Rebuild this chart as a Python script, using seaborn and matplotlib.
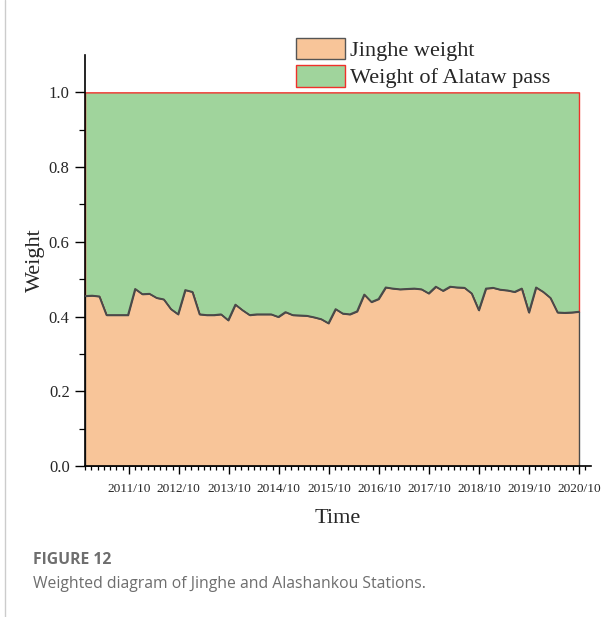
import numpy as np
import pandas as pd
import matplotlib
matplotlib.use("Agg")
import matplotlib.pyplot as plt
from matplotlib.patches import Patch
from matplotlib.lines import Line2D
import seaborn as sns

# Jinghe station weight over time (Alataw pass weight is the complement, 1 - w)
jinghe_weight = [
    0.455, 0.456, 0.454, 0.404, 0.404, 0.404, 0.404, 0.474, 0.460, 0.461,
    0.450, 0.446, 0.420, 0.406, 0.471, 0.466, 0.406, 0.404, 0.404, 0.406,
    0.390, 0.432, 0.417, 0.404, 0.406, 0.406, 0.406, 0.399, 0.412, 0.404,
    0.403, 0.402, 0.398, 0.393, 0.382, 0.420, 0.408, 0.406, 0.414, 0.459,
    0.439, 0.447, 0.478, 0.475, 0.473, 0.474, 0.475, 0.473, 0.462, 0.480,
    0.469, 0.480, 0.478, 0.477, 0.462, 0.417, 0.475, 0.477, 0.472, 0.470,
    0.466, 0.475, 0.411, 0.478, 0.466, 0.450, 0.411, 0.410, 0.411, 0.413,
]
# sampling times in decimal years, evenly spaced from late 2010 to Oct 2020
t_start, t_end = 2010.875, 2020.75
years = np.linspace(t_start, t_end, len(jinghe_weight))

tick_years = [2011.75 + k for k in range(10)]
tick_labels = [f"{2011 + k}/10" for k in range(10)]

series_names = ["Jinghe weight", "Weight of Alataw pass"]
orange = "#F8C599"
green = "#A0D49C"
edge_gray = "#4a4a4a"
edge_red = "#F0302A"

df = pd.DataFrame({"year": years, "weight": jinghe_weight})

sns.set_theme(style="ticks")
plt.rcParams["font.family"] = ["Liberation Serif", "DejaVu Serif"]

fig = plt.figure(figsize=(6.13, 6.17), dpi=100)
ax = fig.add_axes([85 / 613, 1 - 466 / 617, (591 - 85) / 613, (466 - 55) / 617])

ax.fill_between(df["year"], df["weight"], 1.0, facecolor=green,
                edgecolor=edge_red, linewidth=1.0, zorder=1)
ax.fill_between(df["year"], 0, df["weight"], facecolor=orange,
                edgecolor=edge_gray, linewidth=1.0, zorder=2)
sns.lineplot(data=df, x="year", y="weight", color=edge_gray, linewidth=1.3,
             ax=ax, zorder=3)

ax.set_xlim(t_start, 2020.99)
ax.set_ylim(0, 1.1)
ax.set_xticks(tick_years)
ax.set_xticklabels(tick_labels, fontsize=9.6)
ax.set_xticks(np.arange(2011.75 - 7 * 0.125, 2021.0, 0.125), minor=True)
ax.set_yticks(np.arange(0, 1.01, 0.2))
ax.set_yticklabels([f"{v:.1f}" for v in np.arange(0, 1.01, 0.2)], fontsize=12)
ax.set_yticks(np.arange(0.1, 1.01, 0.2), minor=True)

ax.tick_params(axis="x", which="major", direction="out", length=6, width=1.0,
               color="black", pad=6.5)
ax.tick_params(axis="x", which="minor", direction="out", length=3, width=0.9,
               color="black")
ax.tick_params(axis="y", which="major", direction="out", length=7, width=1.0,
               color="black", pad=4)
ax.tick_params(axis="y", which="minor", direction="out", length=4, width=0.9,
               color="black")

for side in ("top", "right"):
    ax.spines[side].set_visible(False)
for side in ("left", "bottom"):
    ax.spines[side].set_color("black")
    ax.spines[side].set_linewidth(1.2)

ax.set_xlabel("Time", fontsize=16, labelpad=9.5)
ax.set_ylabel("Weight", fontsize=16, labelpad=3)

handles = [
    Patch(facecolor=orange, edgecolor="#555555", linewidth=1.0),
    Patch(facecolor=green, edgecolor=edge_red, linewidth=1.0),
]
fig.legend(handles, series_names, loc="upper left",
           bbox_to_anchor=(296 / 613, 1 - 38 / 617), frameon=False,
           fontsize=16, handlelength=2.2, handleheight=1.1,
           handletextpad=0.25, labelspacing=0.18, borderpad=0.0,
           borderaxespad=0.0)

# page decoration and caption
fig.add_artist(Line2D([5 / 613, 5 / 613], [0, 1], color="#cccccc",
                      linewidth=1.0, transform=fig.transFigure))
fig.text(33 / 613, 1 - 560 / 617, "FIGURE 12", fontsize=11.3,
         fontweight="bold", color="#6e6e6e", family=["Open Sans", "DejaVu Sans"],
         va="center", ha="left")
fig.text(33 / 613, 1 - 584 / 617,
         "Weighted diagram of Jinghe and Alashankou Stations.",
         fontsize=11.3, color="#6e6e6e", family=["Open Sans", "DejaVu Sans"],
         va="center", ha="left")

fig.savefig("out.png", dpi=100)
